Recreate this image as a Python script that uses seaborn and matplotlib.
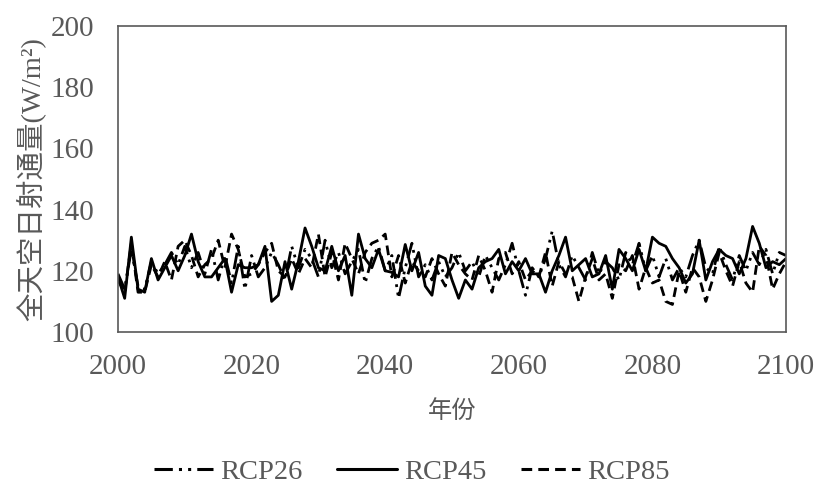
import numpy as np
import pandas as pd
import matplotlib
matplotlib.use("Agg")
import matplotlib.pyplot as plt
import seaborn as sns
from matplotlib.lines import Line2D

years = list(range(2000, 2101))

rcp26 = [119, 114, 127, 115, 114, 123, 119, 122, 126, 122, 128, 121, 126, 119, 127, 117, 125, 116, 128, 114,
         125, 118, 121, 126, 122, 117, 128, 121, 127, 124, 118, 130, 121, 126, 119, 123, 127, 116, 124, 128,
         120, 125, 111, 121, 129, 118, 122, 117, 123, 118, 121, 126, 120, 123, 118, 125, 121, 117, 122, 129,
         120, 112, 121, 118, 124, 133, 122, 118, 125, 121, 117, 126, 119, 123, 121, 117, 126, 122, 129, 120,
         125, 118, 124, 117, 121, 118, 125, 130, 121, 119, 128, 122, 117, 125, 120, 126, 122, 127, 119, 126,
         125]

rcp45 = [118, 111, 131, 114, 113, 124, 117, 121, 125, 120, 125, 132, 123, 118, 118, 121, 124, 113, 122, 121,
         121, 122, 128, 110, 112, 123, 114, 123, 134, 128, 121, 120, 128, 120, 125, 112, 132, 124, 121, 127,
         120, 119.5, 118, 128.6, 120, 126, 115, 112, 125, 124, 117, 111, 117, 114, 121, 123, 124, 127, 119, 123,
         120, 124, 119, 119, 113, 120, 125, 131, 120, 122, 124, 118, 119, 125, 114, 127, 124, 120, 127, 120,
         131, 129, 128, 124, 121, 116, 119, 130, 117, 123, 127, 125, 124, 119, 124, 134.5, 129, 121, 123, 122,
         124]

rcp85 = [117, 113, 129, 113, 113, 122, 118, 123, 117, 128, 130, 125, 118, 122, 124, 130, 121, 132, 127, 118,
         119, 122, 126, 129, 120, 118, 124, 119, 124, 121, 132, 118, 126, 117, 129, 124, 119, 126, 129, 130,
         132, 118, 125, 116, 123, 120, 118, 124, 119, 115, 126, 122, 119, 117, 125, 120, 113, 124, 126, 119,
         123, 117, 120, 118, 126, 115, 123, 119, 118, 110, 118, 124, 117, 119, 111, 122, 120, 125, 114, 121,
         116, 117, 110, 109, 120, 113, 121, 118, 110, 117, 126, 120, 115, 123, 116, 113, 128, 125, 114, 119,
         123]

series_names = ["RCP26", "RCP45", "RCP85"]
x_ticks = [2000, 2020, 2040, 2060, 2080, 2100]
y_ticks = [100, 120, 140, 160, 180, 200]

df = pd.DataFrame({
    "year": years * 3,
    "value": rcp26 + rcp45 + rcp85,
    "scenario": [series_names[0]] * len(years) + [series_names[1]] * len(years) + [series_names[2]] * len(years),
})

sns.set_style("white")
plt.rcParams["font.family"] = ["Liberation Serif", "Noto Sans CJK SC", "DejaVu Sans"]
gray = "#595959"

dash_26 = (6, 2, 1, 2, 1, 2)
dash_85 = (3.5, 2)

fig = plt.figure(figsize=(8.17, 4.90), dpi=100)
ax = fig.add_axes([118 / 817, 1 - 332 / 490, (786 - 118) / 817, (332 - 26) / 490])

sns.lineplot(
    data=df, x="year", y="value", style="scenario", ax=ax,
    color="black", linewidth=2.0,
    dashes={"RCP26": dash_26, "RCP45": "", "RCP85": dash_85},
    legend=False,
)

ax.set_xlim(2000, 2100)
ax.set_ylim(100, 200)
ax.set_xticks(x_ticks)
ax.set_yticks(y_ticks)
ax.tick_params(axis="both", direction="in", length=8, width=1, color=gray,
               labelsize=21, labelcolor=gray)
ax.tick_params(axis="y", pad=17)
ax.tick_params(axis="x", pad=16)
for s in ax.spines.values():
    s.set_color(gray)
    s.set_linewidth(1.2)

ax.set_xlabel("年份", fontsize=17.5, color=gray, family=["Noto Sans CJK SC"], labelpad=13,
              fontweight="light")
ax.set_ylabel("全天空日射通量(W/m²)", fontsize=20.5, color=gray,
              family=["Liberation Serif", "Noto Sans CJK SC"], labelpad=4)

handles = [
    Line2D([0], [0], color="black", lw=2.2, dashes=dash_26),
    Line2D([0], [0], color="black", lw=2.2),
    Line2D([0], [0], color="black", lw=2.2, dashes=dash_85),
]
leg = fig.legend(handles, series_names, loc="center", bbox_to_anchor=(0.504, 0.036),
                 ncol=3, frameon=False, fontsize=20.5, handlelength=2.1,
                 columnspacing=1.2, handletextpad=0.25, borderpad=0.2)
for t in leg.get_texts():
    t.set_color(gray)

fig.savefig("out.png", dpi=100)
